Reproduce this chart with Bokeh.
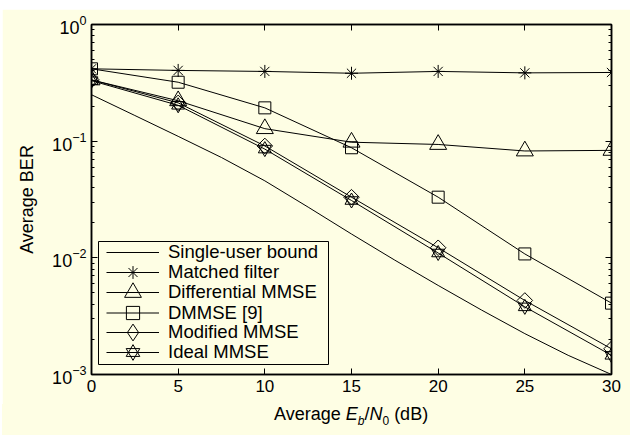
from bokeh.plotting import figure
from bokeh.models import (Range1d, LinearAxis, LogAxis, FixedTicker, LogTicker,
                          Legend, LegendItem, BoxAnnotation, CustomJSTickFormatter,
                          Div, Spacer)
from bokeh.layouts import column, row
from bokeh.embed import file_html
from bokeh.resources import INLINE
import math

# ---------------- data ----------------
snr_db = [0, 5, 10, 15, 20, 25, 30]
su_snr_db = [0, 2.5, 5, 7.5, 10, 12.5, 15, 17.5, 20, 22.5, 25, 27.5, 30]
su_bound = [0.25, 0.166, 0.110, 0.0724, 0.0457, 0.0272, 0.0160, 0.00955, 0.0058,
            0.00357, 0.00224, 0.00146, 0.001]
matched_filter = [0.417, 0.404, 0.396, 0.382, 0.396, 0.385, 0.388]
differential_mmse = [0.335, 0.222, 0.128, 0.098, 0.0937, 0.0824, 0.0834]
dmmse = [0.417, 0.32, 0.193, 0.0878, 0.0331, 0.0108, 0.00409]
modified_mmse = [0.335, 0.213, 0.091, 0.0331, 0.0122, 0.00431, 0.00166]
ideal_mmse = [0.33, 0.203, 0.0855, 0.031, 0.011, 0.0038, 0.00146]

x_ticks = [0, 5, 10, 15, 20, 25, 30]
labels = ["Single-user bound", "Matched filter", "Differential MMSE",
          "DMMSE [9]", "Modified MMSE", "Ideal MMSE"]

BG = "#FEFEE4"
FONT = "Liberation Sans"

p = figure(width=628, height=395, x_range=Range1d(0, 30), y_range=Range1d(1e-3, 1),
           y_axis_type="log", output_backend="svg", toolbar_location=None,
           min_border_left=89, min_border_right=19, min_border_top=15, min_border_bottom=30,
           background_fill_color=BG, border_fill_color=BG)
p.grid.visible = False
p.outline_line_color = "black"
p.outline_line_width = 1.5

# bottom / left axes
xa = p.xaxis[0]
xa.ticker = FixedTicker(ticks=x_ticks)
ya = p.yaxis[0]
ya.ticker = LogTicker(num_minor_ticks=10)
for ax in (xa, ya):
    ax.axis_line_color = "black"
    ax.axis_line_width = 1.5
    ax.major_tick_in = 6
    ax.major_tick_out = 0
    ax.minor_tick_in = 3
    ax.minor_tick_out = 0
    ax.major_tick_line_color = "black"
    ax.minor_tick_line_color = "black"
    ax.major_label_text_font = FONT
    ax.major_label_text_color = "black"
xa.major_label_text_font_size = "17px"
ya.major_label_text_font_size = "18px"
xa.minor_tick_line_color = None
ya.axis_label = "Average BER"
ya.axis_label_text_font = FONT
ya.axis_label_text_font_size = "18px"
ya.axis_label_text_font_style = "normal"
ya.axis_label_text_color = "black"
ya.axis_label_standoff = 12

# top / right axes (ticks only)
blank = CustomJSTickFormatter(code="return ''")
top = LinearAxis(ticker=FixedTicker(ticks=x_ticks), formatter=blank,
                 major_label_text_font_size="0px", major_tick_in=6, major_tick_out=0,
                 minor_tick_line_color=None, axis_line_width=1.5)
right = LogAxis(ticker=LogTicker(num_minor_ticks=10), formatter=blank,
                major_label_text_font_size="0px", major_tick_in=6, major_tick_out=0,
                minor_tick_in=3, minor_tick_out=0, axis_line_width=1.5)
p.add_layout(top, "above")
p.add_layout(right, "right")

# ---------------- series ----------------
lw = 1
r_su = p.line(su_snr_db, su_bound, line_color="black", line_width=lw)

l_mf = p.line(snr_db, matched_filter, line_color="black", line_width=lw)
m_mf = p.scatter(snr_db, matched_filter, marker="asterisk", size=13,
                 line_color="black", line_width=1)

l_dm = p.line(snr_db, differential_mmse, line_color="black", line_width=lw)
m_dm = p.scatter(snr_db, differential_mmse, marker="triangle", size=17,
                 fill_color=None, line_color="black", line_width=1)

l_d9 = p.line(snr_db, dmmse, line_color="black", line_width=lw)
m_d9 = p.scatter(snr_db, dmmse, marker="square", size=12,
                 fill_color=None, line_color="black", line_width=1)

l_mo = p.line(snr_db, modified_mmse, line_color="black", line_width=lw)
m_mo = p.scatter(snr_db, modified_mmse, marker="square", angle=math.pi / 4, size=11,
                 fill_color=None, line_color="black", line_width=1)
# hidden twin of the same series, used only for the legend's diamond key
m_mo_key = p.scatter(snr_db, modified_mmse, marker="diamond", size=16, fill_color=None,
                     line_color="black", line_width=1, visible=False)

l_id = p.line(snr_db, ideal_mmse, line_color="black", line_width=lw)
m_id1 = p.scatter(snr_db, ideal_mmse, marker="triangle", size=13,
                  fill_color=None, line_color="black", line_width=1)
m_id2 = p.scatter(snr_db, ideal_mmse, marker="inverted_triangle", size=13,
                  fill_color=None, line_color="black", line_width=1)

# ---------------- legend: one row per Legend so each marker gets its own size ----
row_renderers = [[r_su], [l_mf, m_mf], [l_dm, m_dm], [l_d9, m_d9],
                 [l_mo, m_mo_key], [l_id, m_id1, m_id2]]
glyph_heights = [20, 32, 42, 33, 42, 34]
row_centers = [121.3, 101.5, 81.7, 61.9, 42.1, 22.3]   # px above the frame bottom
for lab, rends, gh, yc in zip(labels, row_renderers, glyph_heights, row_centers):
    leg = Legend(items=[LegendItem(label=lab, renderers=rends)],
                 location=(15, round(yc - gh / 2)), padding=0, spacing=0, margin=0,
                 glyph_height=gh, glyph_width=53, label_height=gh, label_standoff=9,
                 label_text_font=FONT, label_text_font_size="18.5px",
                 label_text_color="black", inactive_fill_alpha=0,
                 border_line_alpha=0, background_fill_alpha=0)
    p.add_layout(leg, "center")

box = BoxAnnotation(left=7, right=237, bottom=10, top=133,
                    left_units="screen", right_units="screen",
                    bottom_units="screen", top_units="screen",
                    fill_alpha=0, line_color="black", line_width=1, line_alpha=1)
p.add_layout(box)

# ---------------- x-axis label: Average E_b/N_0 (dB) ----------------
xlabel_html = (
    '<div style="padding-left:272px;font-family:\'Liberation Sans\';font-size:18px;'
    'line-height:20px;white-space:nowrap;color:black">'
    'Average <i>E</i><sub style="font-size:12px;line-height:0;font-style:italic">b</sub>/'
    '<i>N</i><sub style="font-size:12px;line-height:0">0</sub> (dB)</div>'
)
xlabel = Div(text=xlabel_html, width=628, height=31,
             styles={"background-color": BG, "margin": "0", "padding": "0"})

layout = column(Spacer(width=630, height=9),
                row(Spacer(width=2, height=426), column(p, xlabel, spacing=0), spacing=0),
                spacing=0)

open("out.html", "w").write(file_html(layout, INLINE))
